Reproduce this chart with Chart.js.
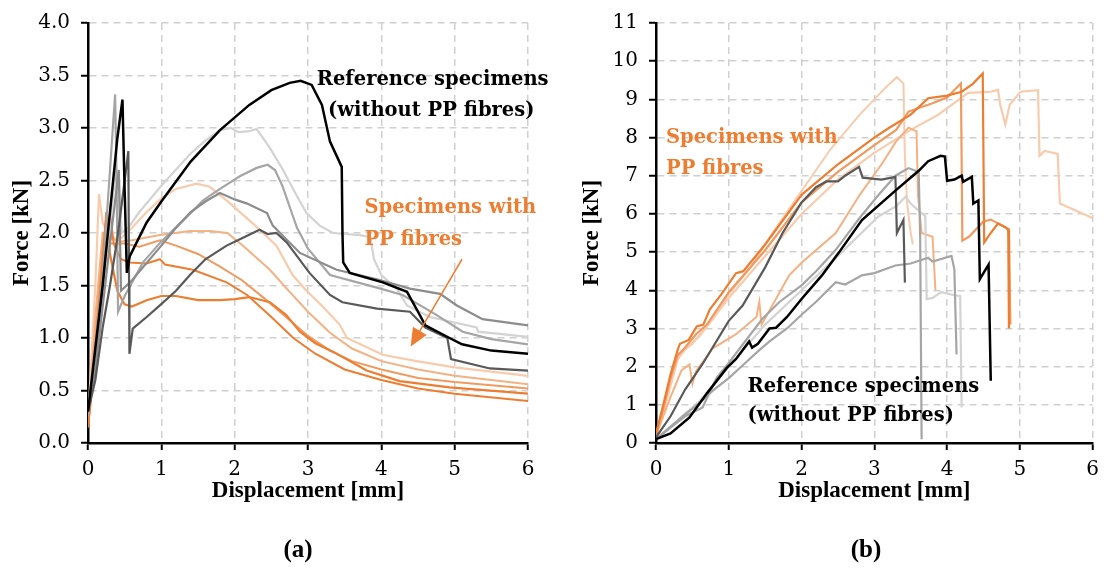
<!DOCTYPE html>
<html>
<head>
<meta charset="utf-8">
<script src="https://cdn.jsdelivr.net/npm/chart.js@4.4.1/dist/chart.umd.min.js"></script>
<style>
body{margin:0;background:#fff;width:1107px;height:569px;position:relative;overflow:hidden}
.box{position:absolute;top:0;height:569px}
.cap{position:absolute;top:535px;width:60px;text-align:center;font:bold 25px "Liberation Serif";color:#000}
</style>
</head>
<body>
<div class="box" style="left:0;width:553px"><canvas id="chartA"></canvas></div>
<div class="box" style="left:553px;width:554px"><canvas id="chartB"></canvas></div>
<div class="cap" style="left:268px">(a)</div>
<div class="cap" style="left:836px">(b)</div>
<script>
// ---- (a) curves, [displacement mm, force kN]
const aBlack = [[0,0.3],[0.1,0.9],[0.2,1.5],[0.3,2.2],[0.4,2.9],[0.47,3.27],[0.5,2.4],[0.53,1.62],[0.57,1.78],[0.8,2.1],[1.0,2.3],[1.4,2.68],[1.8,2.98],[2.2,3.22],[2.5,3.36],[2.75,3.43],[2.9,3.45],[3.05,3.41],[3.19,3.22],[3.3,2.87],[3.46,2.63],[3.47,2.0],[3.48,1.72],[3.57,1.62],[4.02,1.53],[4.35,1.44],[4.5,1.25],[4.6,1.12],[4.93,1.0],[5.1,0.94],[5.5,0.88],[6,0.85]];
const aLight = [[0,0.3],[0.1,0.9],[0.2,1.5],[0.3,2.1],[0.38,2.6],[0.42,2.55],[0.46,2.0],[0.55,2.05],[0.7,2.2],[1.0,2.45],[1.39,2.75],[1.6,2.88],[1.8,2.98],[1.95,3.0],[2.05,2.96],[2.2,2.97],[2.3,2.99],[2.48,2.81],[2.66,2.6],[2.85,2.35],[2.98,2.19],[3.16,2.07],[3.34,2.0],[3.71,1.98],[3.85,1.96],[3.9,1.75],[4.0,1.6],[4.21,1.47],[4.35,1.31],[4.66,1.2],[5.3,1.1],[5.32,1.06],[6,1.01]];
const aMid = [[0,0.25],[0.1,0.9],[0.2,1.6],[0.3,2.6],[0.37,3.32],[0.39,2.5],[0.41,1.25],[0.5,1.4],[0.75,1.72],[1.0,1.92],[1.3,2.12],[1.57,2.31],[1.8,2.42],[2.07,2.54],[2.3,2.62],[2.45,2.65],[2.55,2.6],[2.65,2.45],[2.75,2.25],[2.85,2.05],[3.0,1.85],[3.3,1.6],[3.94,1.48],[4.29,1.41],[4.75,1.22],[5.11,1.06],[5.5,0.99],[6,0.94]];
const aGrey = [[0,0.3],[0.1,0.7],[0.2,1.3],[0.3,1.9],[0.42,2.6],[0.45,1.45],[0.6,1.55],[1.0,1.88],[1.2,2.05],[1.4,2.2],[1.6,2.3],[1.8,2.38],[2.0,2.32],[2.17,2.28],[2.44,2.19],[2.52,2.07],[2.62,2.0],[2.89,1.81],[3.39,1.65],[3.94,1.56],[4.39,1.47],[4.8,1.42],[5.03,1.31],[5.38,1.18],[6,1.12]];
const aDark = [[0,0.3],[0.1,0.6],[0.2,1.1],[0.3,1.5],[0.4,1.95],[0.5,2.5],[0.55,2.78],[0.56,1.5],[0.565,0.85],[0.61,1.09],[0.8,1.2],[0.98,1.31],[1.2,1.45],[1.39,1.6],[1.6,1.75],[1.89,1.88],[2.1,1.95],[2.34,2.03],[2.45,1.99],[2.57,2.0],[2.71,1.91],[2.85,1.78],[3.02,1.62],[3.3,1.41],[3.47,1.34],[3.94,1.28],[4.39,1.25],[4.6,1.1],[4.9,1.0],[4.95,0.8],[5.48,0.71],[6,0.69]];
const aOr1 = [[0,0.2],[0.1,1.5],[0.15,2.37],[0.2,2.1],[0.3,1.95],[0.45,1.95],[0.6,2.05],[0.8,2.2],[1.0,2.33],[1.2,2.42],[1.48,2.47],[1.66,2.44],[1.89,2.31],[2.25,2.09],[2.57,1.88],[2.79,1.6],[2.98,1.45],[3.2,1.3],[3.43,1.13],[3.53,1.0],[4.02,0.84],[4.48,0.78],[5.0,0.72],[6,0.64]];
const aOr2 = [[0,0.15],[0.1,1.2],[0.2,2.0],[0.3,1.95],[0.45,1.92],[0.6,1.93],[0.98,1.98],[1.39,2.02],[1.66,2.02],[1.9,2.0],[2.11,1.88],[2.48,1.65],[2.71,1.47],[3.0,1.25],[3.3,1.05],[3.6,0.9],[4.0,0.78],[4.5,0.7],[5.0,0.64],[6,0.56]];
const aOr3 = [[0,0.2],[0.1,1.0],[0.2,1.85],[0.25,2.15],[0.3,1.9],[0.5,1.9],[0.7,1.87],[0.98,1.93],[1.2,1.88],[1.5,1.8],[1.8,1.68],[2.1,1.55],[2.4,1.38],[2.7,1.2],[3.0,1.02],[3.3,0.88],[3.6,0.78],[4.0,0.7],[4.5,0.62],[5.0,0.58],[6,0.52]];
const aOr4 = [[0,0.15],[0.1,0.8],[0.2,1.5],[0.3,2.2],[0.35,1.9],[0.45,1.75],[0.57,1.72],[0.8,1.71],[0.98,1.75],[1.05,1.7],[1.43,1.65],[1.89,1.53],[2.17,1.41],[2.5,1.2],[2.8,1.0],[3.1,0.85],[3.5,0.7],[4.0,0.6],[4.5,0.52],[5.0,0.47],[6,0.4]];
const aOr5 = [[0,0.15],[0.1,0.9],[0.2,1.7],[0.25,2.2],[0.3,1.8],[0.4,1.45],[0.5,1.32],[0.6,1.3],[0.8,1.36],[1.0,1.4],[1.2,1.4],[1.5,1.36],[1.8,1.36],[2.0,1.37],[2.2,1.39],[2.48,1.34],[2.7,1.22],[2.89,1.06],[3.1,0.95],[3.34,0.87],[3.8,0.69],[4.25,0.59],[4.93,0.53],[6,0.47]];

// ---- (b) curves
const bBlack = [[0,0.1],[0.2,0.25],[0.46,0.67],[0.7,1.3],[0.97,1.96],[1.1,2.2],[1.28,2.66],[1.32,2.5],[1.4,2.6],[1.56,3.0],[1.65,3.02],[1.8,3.3],[2.0,3.77],[2.28,4.39],[2.51,4.98],[2.83,5.84],[3.29,6.61],[3.61,7.13],[3.74,7.38],[3.91,7.52],[3.97,7.5],[4.0,6.87],[4.1,6.9],[4.2,7.0],[4.22,6.84],[4.34,6.97],[4.36,6.27],[4.43,6.35],[4.45,4.29],[4.57,4.67],[4.6,1.63]];
const bDark = [[0,0.15],[0.2,0.7],[0.4,1.4],[0.64,2.07],[1.0,3.2],[1.19,3.6],[1.5,4.6],[1.74,5.5],[2.0,6.3],[2.2,6.7],[2.34,6.85],[2.5,6.85],[2.6,7.0],[2.79,7.23],[2.84,6.95],[3.1,6.9],[3.29,6.97],[3.31,5.5],[3.4,5.84],[3.42,4.2]];
const bMid = [[0,0.1],[0.2,0.4],[0.4,0.7],[0.64,0.93],[0.83,1.7],[1.0,2.1],[1.2,2.6],[1.46,3.25],[1.7,3.7],[2.0,4.13],[2.2,4.5],[2.47,5.06],[2.8,5.9],[3.06,6.5],[3.29,7.0],[3.47,7.2],[3.61,7.1],[3.63,5.4],[3.65,0.1]];
const bLight = [[0,0.1],[0.3,0.6],[0.6,1.1],[1.0,2.0],[1.5,3.1],[2.0,4.0],[2.5,4.9],[3.06,5.94],[3.3,6.2],[3.43,6.45],[3.5,6.27],[3.6,6.1],[3.7,5.94],[3.72,3.77],[3.8,3.8],[3.92,3.95],[4.1,3.87],[4.18,3.85],[4.2,0.93]];
const bGrey = [[0,0.1],[0.19,0.41],[0.4,0.75],[0.6,1.05],[0.78,1.37],[1.0,1.7],[1.2,2.05],[1.4,2.4],[1.56,2.66],[1.8,3.0],[2.0,3.36],[2.2,3.7],[2.47,4.21],[2.6,4.15],[2.83,4.39],[3.0,4.45],[3.29,4.65],[3.5,4.7],[3.74,4.85],[3.8,4.75],[4.06,4.9],[4.1,4.55],[4.13,2.32]];
const bOr1 = [[0,0.25],[0.1,1.0],[0.2,1.8],[0.3,2.45],[0.33,2.6],[0.45,2.7],[0.56,3.05],[0.65,3.1],[0.74,3.5],[0.9,3.9],[1.1,4.45],[1.2,4.5],[1.5,5.2],[2.0,6.5],[2.5,7.3],[3.0,8.0],[3.2,8.25],[3.5,8.6],[3.74,9.03],[4.0,9.1],[4.2,9.2],[4.35,9.4],[4.49,9.68],[4.51,5.25],[4.6,5.5],[4.7,5.75],[4.8,5.65],[4.84,5.58],[4.85,3.0]];
const bOr2 = [[0,0.2],[0.1,0.9],[0.2,1.7],[0.3,2.3],[0.4,2.5],[0.55,2.85],[0.7,3.1],[1.0,3.95],[1.5,5.05],[2.0,6.3],[2.5,7.1],[3.0,7.8],[3.3,8.2],[3.47,8.68],[3.8,8.9],[4.0,9.05],[4.19,9.42],[4.21,5.3],[4.3,5.4],[4.5,5.8],[4.6,5.85],[4.75,5.7],[4.85,5.6],[4.87,3.1]];
const bOr3 = [[0,0.2],[0.1,0.9],[0.2,1.6],[0.3,2.3],[0.5,2.6],[0.8,3.3],[1.0,3.9],[1.3,4.6],[1.6,5.5],[2.0,6.6],[2.4,7.7],[2.8,8.6],[3.0,9.0],[3.15,9.3],[3.31,9.58],[3.4,9.42],[3.42,7.5],[3.45,6.3],[3.5,5.5],[3.53,5.2]];
const bOr4 = [[0,0.2],[0.1,0.8],[0.2,1.5],[0.3,2.2],[0.4,2.45],[0.6,2.8],[0.8,3.3],[1.0,3.8],[1.5,4.9],[2.0,6.0],[2.5,6.9],[3.0,7.6],[3.5,8.2],[3.88,8.6],[4.29,9.17],[4.6,9.2],[4.7,9.25],[4.73,8.86],[4.8,8.34],[4.86,8.86],[5.01,9.2],[5.25,9.24],[5.27,7.52],[5.34,7.65],[5.52,7.57],[5.55,6.27],[5.75,6.1],[6,5.89],[6.01,5.06]];
const bOr5 = [[0,0.2],[0.2,1.2],[0.35,1.9],[0.46,2.06],[0.5,1.55],[0.55,1.88],[0.78,2.48],[1.1,2.85],[1.38,3.3],[1.42,3.7],[1.45,3.1],[1.83,4.39],[2.0,4.72],[2.47,5.5],[2.8,6.5],[3.1,7.3],[3.3,7.9],[3.47,8.26],[3.58,8.16],[3.6,6.5],[3.65,5.5],[3.8,5.4],[3.82,4.7],[3.84,4.0]];

const xTicks = [0, 6, 1];           // min, max, step
const yTicksA = [0, 4, 0.5];
const yTicksB = [0, 11, 1];

const BLACK = '#000000', DARK = '#595959', GREY = '#8c8c8c', MID = '#a5a5a5', LIGHT = '#d3d3d3';
const OR = '#ed7d31', OR2 = '#f19a5f', OR3 = '#f4b183', OR4 = '#f8cbad';

function ds(pts, color, w) {
  return {data: pts.map(p => ({x: p[0], y: p[1]})), borderColor: color, borderWidth: w,
    showLine: true, pointRadius: 0, tension: 0, fill: false};
}

// text notes and arrow, placed with data coordinates
const notesPlugin = {
  id: 'notes',
  afterDatasetsDraw(chart, args, opts) {
    const ctx = chart.ctx, xs = chart.scales.x, ys = chart.scales.y;
    ctx.save();
    ctx.font = 'bold 19.5px "DejaVu Serif"';
    ctx.textBaseline = 'middle';
    opts.notes.forEach(n => {
      ctx.fillStyle = n.color;
      ctx.textAlign = n.align;
      ctx.fillText(n.text, xs.getPixelForValue(n.x), ys.getPixelForValue(n.y));
    });
    if (opts.arrow) {
      const a = opts.arrow;
      const x1 = xs.getPixelForValue(a[0]), y1 = ys.getPixelForValue(a[1]);
      const x2 = xs.getPixelForValue(a[2]), y2 = ys.getPixelForValue(a[3]);
      const ang = Math.atan2(y2 - y1, x2 - x1);
      ctx.strokeStyle = OR; ctx.fillStyle = OR; ctx.lineWidth = 1.5;
      ctx.beginPath(); ctx.moveTo(x1, y1);
      ctx.lineTo(x2 - 14 * Math.cos(ang), y2 - 14 * Math.sin(ang)); ctx.stroke();
      ctx.beginPath();
      ctx.moveTo(x2, y2);
      ctx.lineTo(x2 - 18 * Math.cos(ang) + 8 * Math.sin(ang), y2 - 18 * Math.sin(ang) - 8 * Math.cos(ang));
      ctx.lineTo(x2 - 18 * Math.cos(ang) - 8 * Math.sin(ang), y2 - 18 * Math.sin(ang) + 8 * Math.cos(ang));
      ctx.closePath(); ctx.fill();
    }
    ctx.restore();
  }
};

function axis(t, title, fit, titlePad) {
  return {
    type: 'linear', min: t[0], max: t[1],
    ticks: {stepSize: t[2], color: '#000', font: {family: 'DejaVu Serif', size: 20}, padding: 0},
    grid: {color: '#d0d0d0', lineWidth: 1.5, tickColor: '#000', tickWidth: 2, tickLength: 7},
    border: {color: '#000', width: 2.5, dash: [7, 5]},
    title: {display: true, text: title, color: '#000', font: {family: 'Liberation Serif', size: 23, weight: 'bold'}, padding: titlePad},
    afterFit: fit
  };
}

function makeChart(id, sets, yT, yFmt, plotLeft, padRight, yTitlePad, notes, arrow) {
  const x = axis(xTicks, 'Displacement [mm]', s => { s.height = 62; }, {top: 0, bottom: 0});
  x.ticks.padding = 8;
  const y = axis(yT, 'Force [kN]', s => { s.width = plotLeft; }, {top: yTitlePad, bottom: 0});
  y.ticks.padding = 11;
  y.ticks.callback = yFmt;
  return new Chart(document.getElementById(id), {
    type: 'scatter',
    data: {datasets: sets},
    options: {
      responsive: true, maintainAspectRatio: false, animation: false,
      layout: {padding: {left: 0, right: padRight, top: 17, bottom: 64}},
      plugins: {legend: {display: false}, tooltip: {enabled: false}, notes: {notes: notes, arrow: arrow}},
      scales: {x: x, y: y}
    },
    plugins: [notesPlugin]
  });
}

makeChart('chartA', [
  ds(aBlack, BLACK, 2.5), ds(aDark, DARK, 2.2), ds(aGrey, GREY, 2.2), ds(aMid, MID, 2.2), ds(aLight, LIGHT, 2.2),
  ds(aOr5, OR, 2.2), ds(aOr4, OR, 2), ds(aOr3, OR2, 2), ds(aOr2, OR3, 2), ds(aOr1, OR4, 2.2)
], yTicksA, v => v.toFixed(1), 88, 25, 8, [
  {text: 'Reference specimens', x: 4.70, y: 3.455, color: '#000', align: 'center'},
  {text: '(without PP fibres)', x: 4.68, y: 3.165, color: '#000', align: 'center'},
  {text: 'Specimens with', x: 3.77, y: 2.24, color: OR, align: 'left'},
  {text: 'PP fibres', x: 3.77, y: 1.93, color: OR, align: 'left'}
], [5.10, 1.75, 4.40, 0.92]);

makeChart('chartB', [
  ds(bBlack, BLACK, 2.5), ds(bDark, DARK, 2.2), ds(bMid, MID, 2.2), ds(bGrey, MID, 2.2), ds(bLight, LIGHT, 2.2),
  ds(bOr1, OR, 2.2), ds(bOr2, OR2, 2.2), ds(bOr5, OR3, 2), ds(bOr3, OR4, 2), ds(bOr4, OR4, 2.2)
], yTicksB, v => String(v), 103, 13, 25, [
  {text: 'Specimens with', x: 0.137, y: 8.0, color: OR, align: 'left'},
  {text: 'PP fibres', x: 0.137, y: 7.18, color: OR, align: 'left'},
  {text: 'Reference specimens', x: 1.257, y: 1.47, color: '#000', align: 'left'},
  {text: '(without PP fibres)', x: 1.257, y: 0.72, color: '#000', align: 'left'}
], null);
</script>
</body>
</html>
